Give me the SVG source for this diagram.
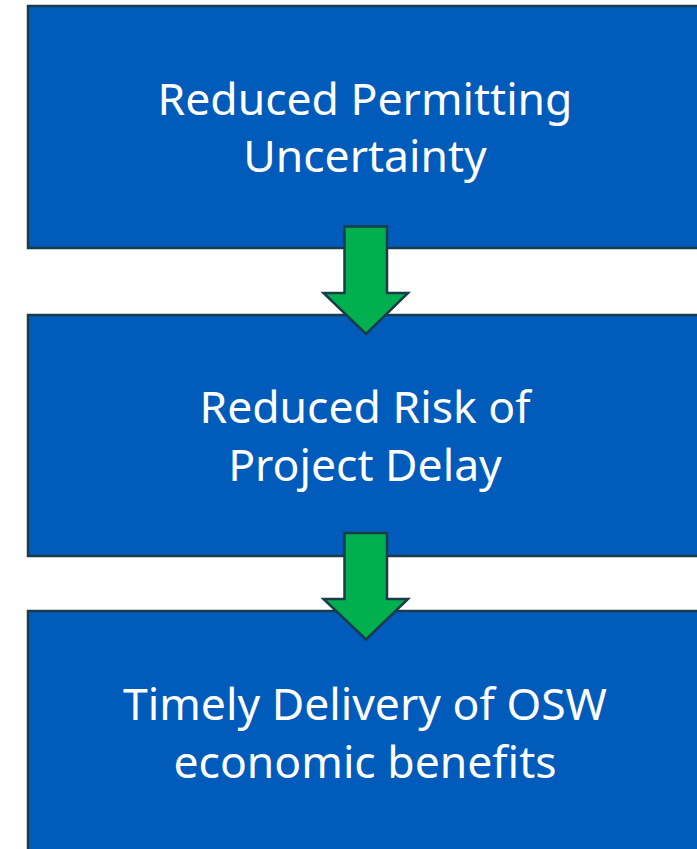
<svg xmlns="http://www.w3.org/2000/svg" width="697" height="849" viewBox="0 0 697 849">
<style>
.box{fill:#005BBB;stroke:#1a3c4a;stroke-width:2.5}
.t{fill:#fff;font-family:"Noto Sans","Open Sans",sans-serif;font-size:44.5px;text-anchor:middle}
.arr{fill:#00B04F;stroke:#1a3c4a;stroke-width:2.5;stroke-linejoin:miter}
</style>
<rect width="697" height="849" fill="#fff"/>
<g id="node1"><rect class="box" x="28" y="6" width="690" height="242"/>
<text class="t" x="365" y="115">Reduced Permitting</text><text class="t" x="365" y="172">Uncertainty</text></g>
<g id="node2"><rect class="box" x="28" y="315" width="690" height="241"/>
<text class="t" x="365" y="423">Reduced Risk of</text><text class="t" x="365" y="481">Project Delay</text></g>
<g id="node3"><rect class="box" x="28" y="611" width="690" height="260"/>
<text class="t" x="365" y="720">Timely Delivery of OSW</text><text class="t" x="365" y="778">economic benefits</text></g>
<g id="connectors">
<polygon class="arr" points="344.5,226.5 387,226.5 387,293 408,293 366,334 323.5,293 344.5,293"/>
<polygon class="arr" points="344.5,533 387,533 387,599 408,599 366,639.5 323.5,599 344.5,599"/>
</g>
</svg>
